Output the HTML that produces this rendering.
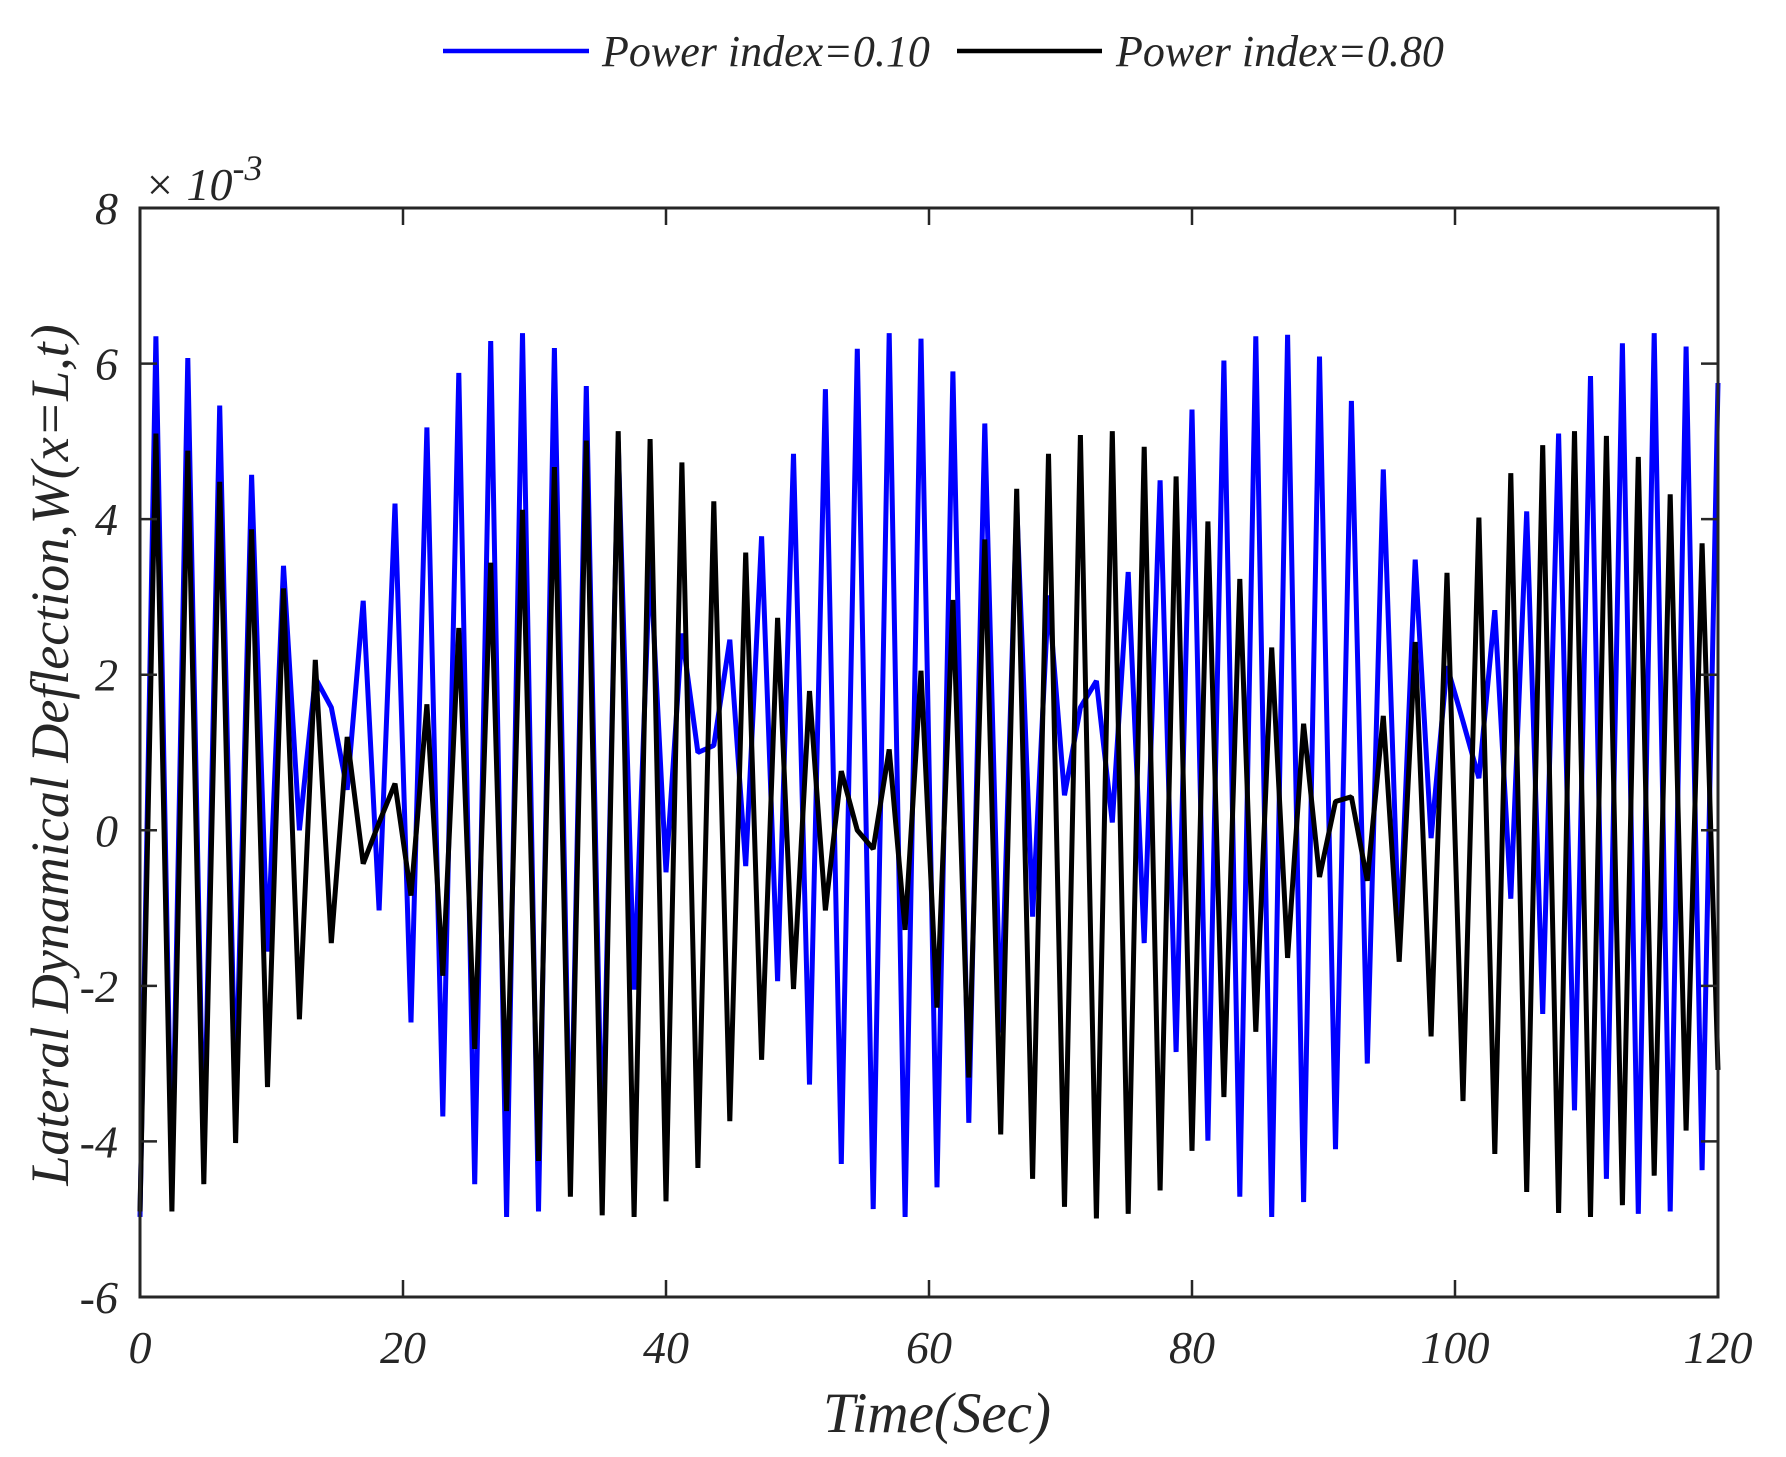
<!DOCTYPE html>
<html><head><meta charset="utf-8"><style>
html,body{margin:0;padding:0;background:#fff;}
svg{display:block;}
text{font-family:"Liberation Serif",serif;font-style:italic;fill:#262626;}
</style></head><body>
<svg id="chart" width="1786" height="1457" viewBox="0 0 1786 1457" xmlns="http://www.w3.org/2000/svg">
<g>
  <line x1="443" y1="51" x2="589" y2="51" stroke="#0000ff" stroke-width="4.5"/>
  <text x="602" y="66" font-size="44">Power index=0.10</text>
  <line x1="957" y1="51" x2="1102" y2="51" stroke="#000" stroke-width="4.5"/>
  <text x="1116" y="66" font-size="44">Power index=0.80</text>
</g>
<g id="series"></g>
<g id="axes"></g>
<text x="144" y="200" font-size="46">× 10<tspan font-size="36" dy="-20">-3</tspan></text>
<text x="937" y="1432" font-size="57" text-anchor="middle">Time(Sec)</text>
<text x="0" y="0" font-size="54" text-anchor="middle" transform="translate(68,755) rotate(-90)">Lateral Dynamical Deflection,W(x=L,t)</text>
</svg>
<script>
const xTicks = [0, 20, 40, 60, 80, 100, 120];
const yTicks = [-6, -4, -2, 0, 2, 4, 6, 8];
const tStart = 0, tEnd = 120;
const blueValues = [
-4.97,6.35,-4.6,6.07,-4.3,5.46,-3.5,4.57,-1.56,3.4,
0,1.96,1.58,0.52,2.95,-1.03,4.2,-2.47,5.18,-3.68,
5.88,-4.55,6.29,-4.97,6.39,-4.9,6.2,-4.5,5.71,-4.3,
5.0,-2.05,3.5,-0.54,2.53,1.0,1.09,2.45,-0.46,3.78,
-1.94,4.84,-3.27,5.67,-4.29,6.19,-4.87,6.39,-4.97,6.32,
-4.59,5.9,-3.76,5.23,-2.6,4.2,-1.11,3.02,0.45,1.58,
1.92,0.1,3.32,-1.45,4.5,-2.85,5.41,-3.99,6.04,-4.71,
6.35,-4.97,6.37,-4.78,6.09,-4.1,5.52,-3.0,4.64,-1.5,
3.48,-0.1,2.11,1.4,0.67,2.83,-0.88,4.1,-2.36,5.1,
-3.6,5.84,-4.48,6.26,-4.93,6.39,-4.9,6.22,-4.37,5.75];
const blackValues = [
-4.9,5.1,-4.9,4.88,-4.55,4.48,-4.02,3.87,-3.3,3.11,
-2.43,2.19,-1.45,1.2,-0.43,0.1,0.6,-0.84,1.62,-1.87,
2.6,-2.81,3.44,-3.61,4.12,-4.25,4.67,-4.71,5.01,-4.95,
5.13,-4.97,5.03,-4.77,4.73,-4.34,4.23,-3.74,3.57,-2.95,
2.73,-2.04,1.79,-1.03,0.76,0.0,-0.24,1.04,-1.28,2.05,
-2.28,2.96,-3.18,3.74,-3.91,4.39,-4.48,4.84,-4.84,5.08,
-4.99,5.13,-4.93,4.93,-4.63,4.55,-4.12,3.97,-3.43,3.23,
-2.59,2.35,-1.64,1.37,-0.6,0.37,0.43,-0.65,1.47,-1.69,
2.42,-2.65,3.31,-3.48,4.02,-4.16,4.59,-4.65,4.95,-4.92,
5.13,-4.97,5.07,-4.82,4.8,-4.44,4.32,-3.86,3.69,-3.08];

const L = 140, R = 1718, T = 208, B = 1297;
const NS = 'http://www.w3.org/2000/svg';
function xs(t){ return L + (t - 0) / (120 - 0) * (R - L); }
function ys(v){ return B - (v - (-6)) / (8 - (-6)) * (B - T); }
function mk(tag, attrs, parent){ const e = document.createElementNS(NS, tag); for (const k in attrs) e.setAttribute(k, attrs[k]); parent.appendChild(e); return e; }

const sg = document.getElementById('series');
function drawSeries(vals, color, name){
  const n = vals.length;
  const pts = vals.map((v,i) => xs(tStart + i*(tEnd - tStart)/(n-1)).toFixed(1) + ',' + ys(v).toFixed(1)).join(' ');
  const pl = mk('polyline', {points: pts, fill: 'none', stroke: color, 'stroke-width': 5, 'stroke-linejoin': 'bevel'}, sg);
  
  
}
drawSeries(blueValues, '#0000ff', 'series-power-index-0-10');
drawSeries(blackValues, '#000000', 'series-power-index-0-80');

const ax = document.getElementById('axes');
const frame = mk('rect', {x: L, y: T, width: R - L, height: B - T, fill: 'none', stroke: '#262626', 'stroke-width': 3}, ax);


const tl = 17;
xTicks.forEach(t => {
  const x = xs(t);
  mk('line', {x1: x, y1: B, x2: x, y2: B - tl, stroke: '#262626', 'stroke-width': 2.5}, ax);
  mk('line', {x1: x, y1: T, x2: x, y2: T + tl, stroke: '#262626', 'stroke-width': 2.5}, ax);
  const lb = mk('text', {x: x, y: 1363, 'font-size': 46, 'text-anchor': 'middle'}, ax);
  lb.textContent = t;
  
  
});
yTicks.forEach(v => {
  const y = ys(v);
  mk('line', {x1: L, y1: y, x2: L + tl, y2: y, stroke: '#262626', 'stroke-width': 2.5}, ax);
  mk('line', {x1: R, y1: y, x2: R - tl, y2: y, stroke: '#262626', 'stroke-width': 2.5}, ax);
  const lb = mk('text', {x: 118, y: y + 16, 'font-size': 46, 'text-anchor': 'end'}, ax);
  lb.textContent = v;
  
  
});
</script>
</body></html>
